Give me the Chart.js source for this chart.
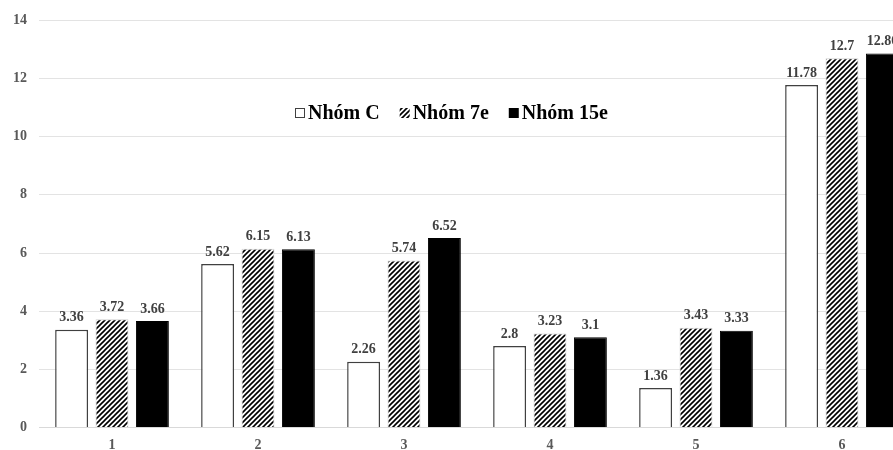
<!DOCTYPE html>
<html>
<head>
<meta charset="utf-8">
<script src="https://cdn.jsdelivr.net/npm/chart.js@4"></script>
<style>
  html, body { margin: 0; padding: 0; background: #fff; overflow: hidden; }
  #wrap { width: 893px; height: 450px; overflow: hidden; }
</style>
</head>
<body>
<div id="wrap"><canvas id="chart" width="920" height="450"></canvas></div>
<script>
const categories = ['1', '2', '3', '4', '5', '6'];
const seriesNames = ['Nhóm C', 'Nhóm 7e', 'Nhóm 15e'];
const groupC = [3.36, 5.62, 2.26, 2.8, 1.36, 11.78];
const group7e = [3.72, 6.15, 5.74, 3.23, 3.43, 12.7];
const group15e = [3.66, 6.13, 6.52, 3.1, 3.33, 12.86];

const serif = '"Liberation Serif", "Times New Roman", serif';

// diagonal hatch fill like the Excel pattern
function makeHatch() {
    const c = document.createElement('canvas');
    c.width = 5;
    c.height = 5;
    const g = c.getContext('2d');
    g.fillStyle = '#fff';
    g.fillRect(0, 0, 5, 5);
    g.strokeStyle = '#000';
    g.lineWidth = 1.6;
    g.beginPath();
    g.moveTo(-1, 6); g.lineTo(6, -1);
    g.moveTo(-1, 1); g.lineTo(1, -1);
    g.moveTo(4, 6); g.lineTo(6, 4);
    g.stroke();
    return g.createPattern(c, 'repeat');
}
const hatch = makeHatch();

const valueLabels = {
    id: 'valueLabels',
    afterDatasetsDraw(chart) {
        const ctx = chart.ctx;
        ctx.save();
        ctx.font = 'bold 14px ' + serif;
        ctx.fillStyle = '#404040';
        ctx.textAlign = 'center';
        ctx.textBaseline = 'bottom';
        chart.data.datasets.forEach((ds, i) => {
            chart.getDatasetMeta(i).data.forEach((bar, j) => {
                ctx.fillText(String(ds.data[j]), bar.x, bar.y - 5);
            });
        });
        ctx.restore();
    }
};

const innerLegend = {
    id: 'innerLegend',
    afterDraw(chart) {
        const ctx = chart.ctx;
        ctx.save();
        ctx.font = 'bold 20px ' + serif;
        ctx.textBaseline = 'middle';
        ctx.fillStyle = '#000';
        let x = 295;
        const y = 113;
        const box = 10;
        chart.data.datasets.forEach((ds, i) => {
            if (i === 0) {
                ctx.fillStyle = '#fff';
                ctx.fillRect(x, y - box / 2, box, box);
                ctx.strokeStyle = '#404040';
                ctx.lineWidth = 1;
                ctx.strokeRect(x + 0.5, y - box / 2 + 0.5, box - 1, box - 1);
            } else {
                ctx.fillStyle = ds.backgroundColor;
                ctx.fillRect(x, y - box / 2, box, box);
            }
            ctx.fillStyle = '#000';
            ctx.fillText(ds.label, x + box + 3, y + 1);
            x += box + 3 + ctx.measureText(ds.label).width + 20;
        });
        ctx.restore();
    }
};

new Chart(document.getElementById('chart'), {
    type: 'bar',
    data: {
        labels: categories,
        datasets: [
            {
                label: seriesNames[0],
                data: groupC,
                backgroundColor: '#fff',
                borderColor: '#404040',
                borderWidth: 1.5,
            },
            {
                label: seriesNames[1],
                data: group7e,
                backgroundColor: hatch,
                borderColor: '#d0d0d0',
                borderWidth: 1,
            },
            {
                label: seriesNames[2],
                data: group15e,
                backgroundColor: '#000',
                borderColor: '#000',
                borderWidth: 1,
            },
        ],
    },
    options: {
        responsive: false,
        devicePixelRatio: 1,
        animation: false,
        categoryPercentage: 0.83,
        barPercentage: 0.815,
        layout: { padding: { top: 19, right: 5, left: 0, bottom: 0 } },
        plugins: {
            legend: { display: false },
            tooltip: { enabled: false },
        },
        scales: {
            x: {
                grid: { display: false, drawTicks: false },
                border: { color: '#d9d9d9', width: 1 },
                ticks: {
                    color: '#595959',
                    font: { family: serif, size: 14, weight: 'bold' },
                    padding: 9,
                },
                afterFit(scale) { scale.height = 22.5; },
            },
            y: {
                min: 0,
                max: 14,
                ticks: {
                    stepSize: 2,
                    color: '#595959',
                    font: { family: serif, size: 14, weight: 'bold' },
                    padding: 12,
                },
                grid: { color: '#e3e3e3', drawTicks: false },
                border: { display: false },
                afterFit(scale) { scale.width = 39; },
            },
        },
    },
    plugins: [valueLabels, innerLegend],
});
</script>
</body>
</html>
